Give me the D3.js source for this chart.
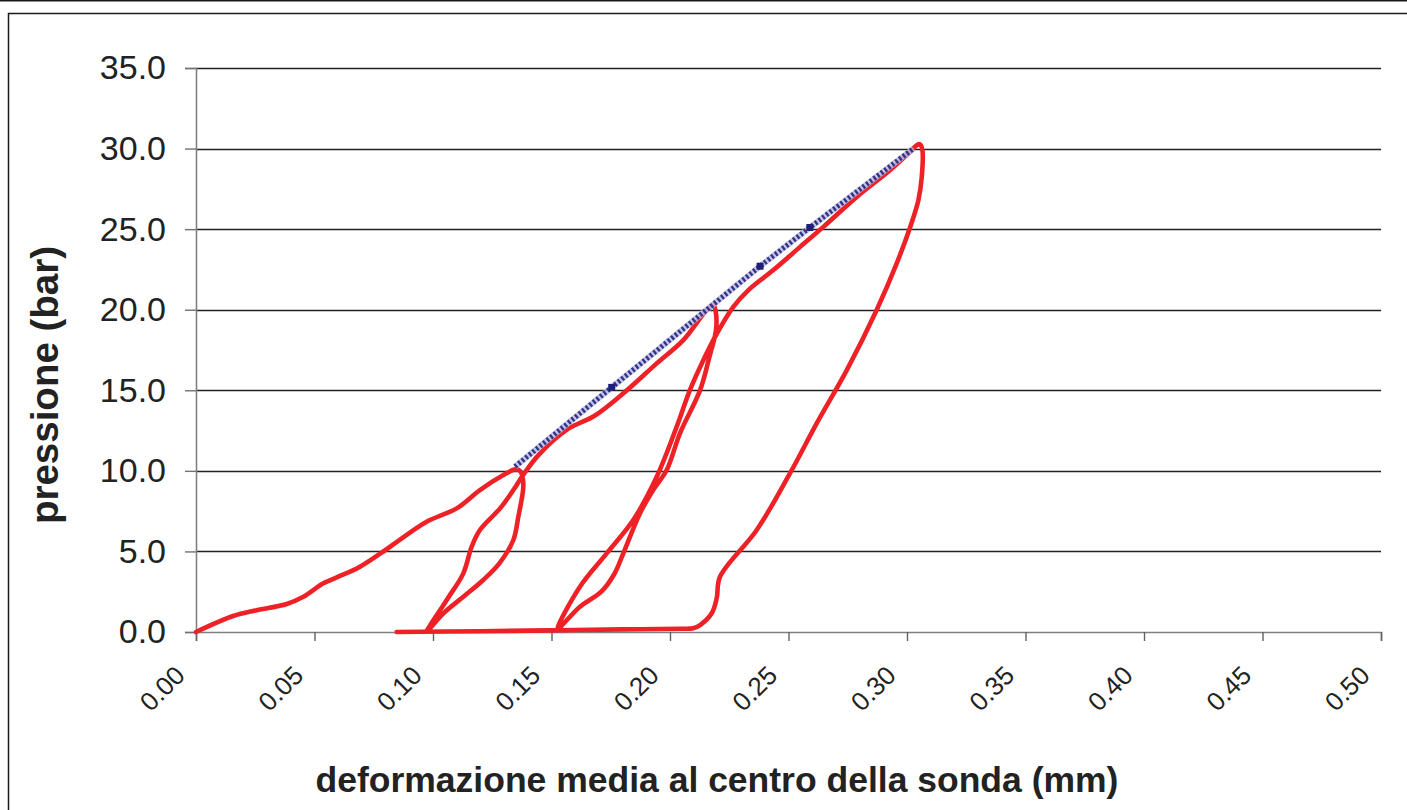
<!DOCTYPE html>
<html>
<head>
<meta charset="utf-8">
<script src="https://cdn.jsdelivr.net/npm/d3@7/dist/d3.min.js"></script>
<style>
  html, body { margin: 0; padding: 0; background: #fff; }
  svg { display: block; font-family: "Liberation Sans", Arial, sans-serif; }
</style>
</head>
<body>
<svg id="chart" width="1407" height="810"></svg>
<script>
// Cicli di carico / scarico: deformazione media (mm) e pressione (bar)
const deformazione = [
  0.0000, 0.0157, 0.0256, 0.0383, 0.0453, 0.0537, 0.0594, 0.0692, 0.0819, 0.0973, 0.1100, 0.1198, 0.1297, 0.1346, 0.1367,
  0.1380, 0.1380, 0.1360, 0.1339, 0.1280, 0.1212, 0.1128, 0.1044, 0.0973,
  0.1058, 0.1128, 0.1163, 0.1198, 0.1283, 0.1339, 0.1380, 0.1445, 0.1570, 0.1680, 0.1803, 0.1944, 0.2056, 0.2155, 0.2183,
  0.2194, 0.2194, 0.2165, 0.2127, 0.2042, 0.1986, 0.1929, 0.1873, 0.1803, 0.1765, 0.1710, 0.1620, 0.1526,
  0.1620, 0.1733, 0.1845, 0.1944, 0.2028, 0.2084, 0.2145, 0.2190, 0.2267, 0.2331, 0.2436, 0.2549, 0.2647, 0.2788, 0.2928, 0.3013, 0.3041, 0.3055,
  0.3065, 0.3062, 0.3048, 0.3015, 0.2960, 0.2872, 0.2746, 0.2619, 0.2506, 0.2366, 0.2211, 0.2197, 0.2176, 0.2127, 0.2098, 0.2042, 0.1800, 0.1500, 0.1200, 0.0847
];
const pressione = [
  0.00, 0.99, 1.35, 1.74, 2.19, 3.02, 3.39, 4.05, 5.29, 6.84, 7.67, 8.81, 9.74, 10.09, 10.00,
  9.43, 8.81, 7.15, 5.71, 4.26, 3.23, 2.19, 1.16, 0.02,
  1.99, 3.64, 5.29, 6.33, 7.67, 8.81, 9.74, 10.98, 12.60, 13.40, 14.81, 16.67, 18.11, 19.98, 20.28,
  19.77, 18.73, 17.00, 15.01, 12.33, 10.05, 8.81, 7.36, 4.88, 3.60, 2.50, 1.57, 0.20,
  2.81, 4.88, 6.95, 9.63, 12.73, 15.01, 17.00, 18.32, 20.18, 21.22, 22.46, 23.90, 25.14, 27.00, 28.66, 29.80, 30.21, 30.27,
  29.90, 28.20, 26.80, 25.20, 23.00, 19.98, 16.25, 12.95, 9.84, 6.33, 3.43, 2.09, 1.16, 0.43, 0.23, 0.20, 0.16, 0.10, 0.05, 0.00
];

// Retta di inviluppo (serie tratteggiata blu)
const deformazioneRetta = [0.1346, 0.1754, 0.2380, 0.2590, 0.3027];
const pressioneRetta   = [10.26, 15.18, 22.70, 25.10, 30.00];

// Tacche degli assi
const tickX = [0.00, 0.05, 0.10, 0.15, 0.20, 0.25, 0.30, 0.35, 0.40, 0.45, 0.50];
const tickY = [0, 5, 10, 15, 20, 25, 30, 35];

const titoloX = "deformazione media al centro della sonda (mm)";
const titoloY = "pressione (bar)";

const svg = d3.select("#chart");
const W = 1407, H = 810;
const area = { left: 196, right: 1381, top: 68, bottom: 632 };

// cornice
svg.append("line").attr("x1", 0).attr("x2", W).attr("y1", 0.75).attr("y2", 0.75)
  .attr("stroke", "#1a1a1a").attr("stroke-width", 1.5);
svg.append("rect").attr("x", 8.5).attr("y", 13.5).attr("width", W + 20).attr("height", H + 20)
  .attr("fill", "none").attr("stroke", "#1a1a1a").attr("stroke-width", 1.5);

const x = d3.scaleLinear().domain([0, 0.5]).range([area.left, area.right]);
const y = d3.scaleLinear().domain([0, 35]).range([area.bottom, area.top]);

// griglia orizzontale
svg.append("g").selectAll("line").data(tickY.filter(d => d > 0)).join("line")
  .attr("x1", area.left).attr("x2", area.right)
  .attr("y1", d => Math.round(y(d)) + 0.5).attr("y2", d => Math.round(y(d)) + 0.5)
  .attr("stroke", "#222").attr("stroke-width", 1.3);

// asse Y
const gy = svg.append("g").attr("transform", `translate(${area.left},0)`)
  .call(d3.axisLeft(y).tickValues(tickY).tickFormat(d3.format(".1f")).tickSize(11).tickPadding(19));
gy.select(".domain").attr("stroke", "#808080").attr("stroke-width", 1.6);
gy.selectAll(".tick line").attr("stroke", "#707070").attr("stroke-width", 1.4);
gy.selectAll(".tick text").attr("font-size", 34).attr("fill", "#222")
  .attr("font-family", "'Liberation Sans', Arial, sans-serif");

// asse X
const gx = svg.append("g").attr("transform", `translate(0,${area.bottom})`)
  .call(d3.axisBottom(x).tickValues(tickX).tickFormat(d3.format(".2f")).tickSize(9));
gx.select(".domain").attr("stroke", "#808080").attr("stroke-width", 1.6);
gx.selectAll(".tick line").attr("stroke", "#606060").attr("stroke-width", 1.4);
gx.selectAll(".tick text")
  .attr("font-size", 26).attr("fill", "#222")
  .attr("font-family", "'Liberation Sans', Arial, sans-serif")
  .attr("text-anchor", "end").attr("dy", null).attr("y", null)
  .attr("transform", "translate(-10,45) rotate(-45)");

// titoli
svg.append("text").attr("x", 717).attr("y", 792).attr("text-anchor", "middle")
  .attr("font-size", 35.5).attr("font-weight", "bold").attr("fill", "#222").text(titoloX);
svg.append("text").attr("transform", "translate(58,385) rotate(-90)").attr("text-anchor", "middle")
  .attr("font-size", 38.5).attr("font-weight", "bold").attr("fill", "#222").text(titoloY);

// curva di carico-scarico (rossa)
const punti = deformazione.map((d, i) => [d, pressione[i]]);
const linea = d3.line().x(d => x(d[0])).y(d => y(d[1])).curve(d3.curveCatmullRom.alpha(0.5));
svg.append("path").datum(punti).attr("d", linea)
  .attr("fill", "none").attr("stroke", "#ee2126").attr("stroke-width", 4.6)
  .attr("stroke-linejoin", "round").attr("stroke-linecap", "round");

// retta tratteggiata (blu)
const puntiRetta = deformazioneRetta.map((d, i) => [d, pressioneRetta[i]]);
const lineaRetta = d3.line().x(d => x(d[0])).y(d => y(d[1]));
svg.append("path").datum(puntiRetta).attr("d", lineaRetta)
  .attr("fill", "none").attr("stroke", "#bcbce2").attr("stroke-width", 6).attr("opacity", 0.85);
svg.append("path").datum(puntiRetta).attr("d", lineaRetta)
  .attr("fill", "none").attr("stroke", "#34348a").attr("stroke-width", 5)
  .attr("stroke-dasharray", "2.4,2.2");
svg.append("g").selectAll("rect").data(puntiRetta.slice(1, -1)).join("rect")
  .attr("x", d => x(d[0]) - 3.5).attr("y", d => y(d[1]) - 3.5).attr("width", 7).attr("height", 7)
  .attr("fill", "#1f1f78");
</script>
</body>
</html>
